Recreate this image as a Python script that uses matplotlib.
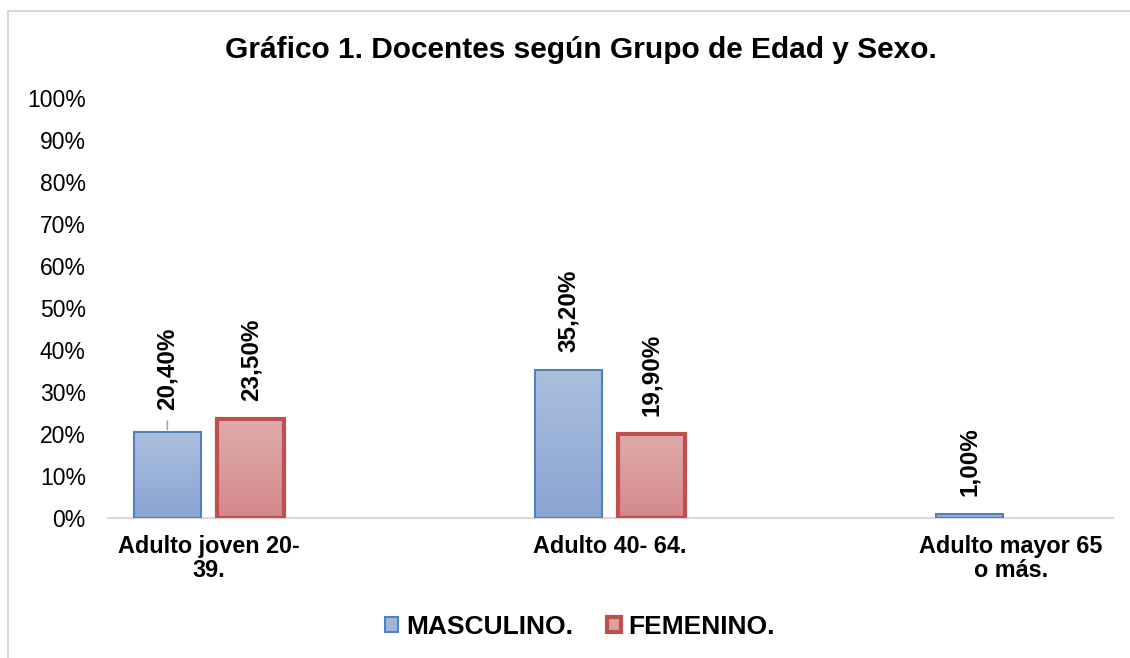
import matplotlib.pyplot as plt
import numpy as np
from matplotlib.colors import LinearSegmentedColormap
from matplotlib.patches import Rectangle, Patch
from matplotlib.lines import Line2D

# Data
categories = ["Adulto joven 20-\n39.", "Adulto 40- 64.", "Adulto mayor 65\no más."]
masculino = [20.4, 35.2, 1.0]
femenino = [23.5, 19.9, None]
series_names = ["MASCULINO.", "FEMENINO."]
y_ticks = list(range(0, 101, 10))

plt.rcParams["font.family"] = ["Liberation Sans", "DejaVu Sans"]

fig = plt.figure(figsize=(11.3, 6.58), dpi=100)
ax = fig.add_axes([108 / 1130, 140 / 658, 1005 / 1130, 420 / 658])

# outer frame of the chart area (cut off at right/bottom)
fig.add_artist(Line2D([8 / 1130, 8 / 1130], [0, 1 - 11 / 658],
                      transform=fig.transFigure, color="#d9d9d9", lw=1.5))
fig.add_artist(Line2D([8 / 1130, 1], [1 - 11 / 658, 1 - 11 / 658],
                      transform=fig.transFigure, color="#d9d9d9", lw=1.5))

blue_cmap = LinearSegmentedColormap.from_list("b", ["#8aa5d3", "#abbfde"])
red_cmap = LinearSegmentedColormap.from_list("r", ["#d4898a", "#dfabab"])
grad = np.linspace(0, 1, 256).reshape(-1, 1)

x = np.arange(len(categories))
width = 0.168
offset = 0.104

series = [
    (masculino, -offset, blue_cmap, "#4f81bd", 1.5),
    (femenino, offset, red_cmap, "#c0504d", 3.0),
]

for vals, off, cmap, edge, lw in series:
    for i, v in enumerate(vals):
        if v is None:
            continue
        x0 = x[i] + off - width / 2
        rect = Rectangle((x0, 0), width, v, facecolor="none",
                         edgecolor=edge, lw=lw, zorder=3)
        ax.add_patch(rect)
        im = ax.imshow(grad, extent=[x0, x0 + width, 0, v], origin="lower",
                       aspect="auto", cmap=cmap, zorder=2)
        im.set_clip_path(rect)
        pad = 16 if i == 0 and off < 0 else 13
        ax.annotate(f"{v:.2f}%".replace(".", ","), (x[i] + off, v),
                    xytext=(0, pad), textcoords="offset points",
                    rotation=90, ha="center", va="bottom",
                    fontsize=17.5, fontweight="bold")

# leader line for the first label
ax.annotate("", (x[0] - offset, masculino[0]), xytext=(0, 10),
            textcoords="offset points",
            arrowprops=dict(arrowstyle="-", color="#a6a6a6", lw=1.2))

ax.set_xlim(-0.252, 2.254)
ax.set_ylim(0, 100)
ax.set_yticks(y_ticks)
ax.set_yticklabels([f"{t}%" for t in y_ticks])
ax.set_xticks(x)
ax.set_xticklabels(categories, fontweight="bold", linespacing=1.05)
ax.tick_params(axis="y", length=0, labelsize=16.5, pad=16)
ax.tick_params(axis="x", length=0, labelsize=16.8, pad=12)
for s in ["left", "right", "top"]:
    ax.spines[s].set_visible(False)
ax.spines["bottom"].set_color("#d9d9d9")
ax.spines["bottom"].set_linewidth(1.5)
ax.spines["bottom"].set_zorder(1)

fig.text(581 / 1130, 1 - 50 / 658, "Gráfico 1. Docentes según Grupo de Edad y Sexo.",
         ha="center", va="center", fontsize=21.5, fontweight="bold")

handles = [
    Patch(facecolor="#a0b5da", edgecolor="#4f81bd", lw=1.5),
    Patch(facecolor="#dba0a0", edgecolor="#c0504d", lw=3.0),
]
fig.legend(handles, series_names, loc="center", ncol=2,
           bbox_to_anchor=(580 / 1130, 1 - 627 / 658), frameon=False,
           prop={"size": 19, "weight": "bold"}, handlelength=0.5,
           handleheight=0.5, handletextpad=0.3, columnspacing=1.3)

fig.savefig("out.png", dpi=100)
